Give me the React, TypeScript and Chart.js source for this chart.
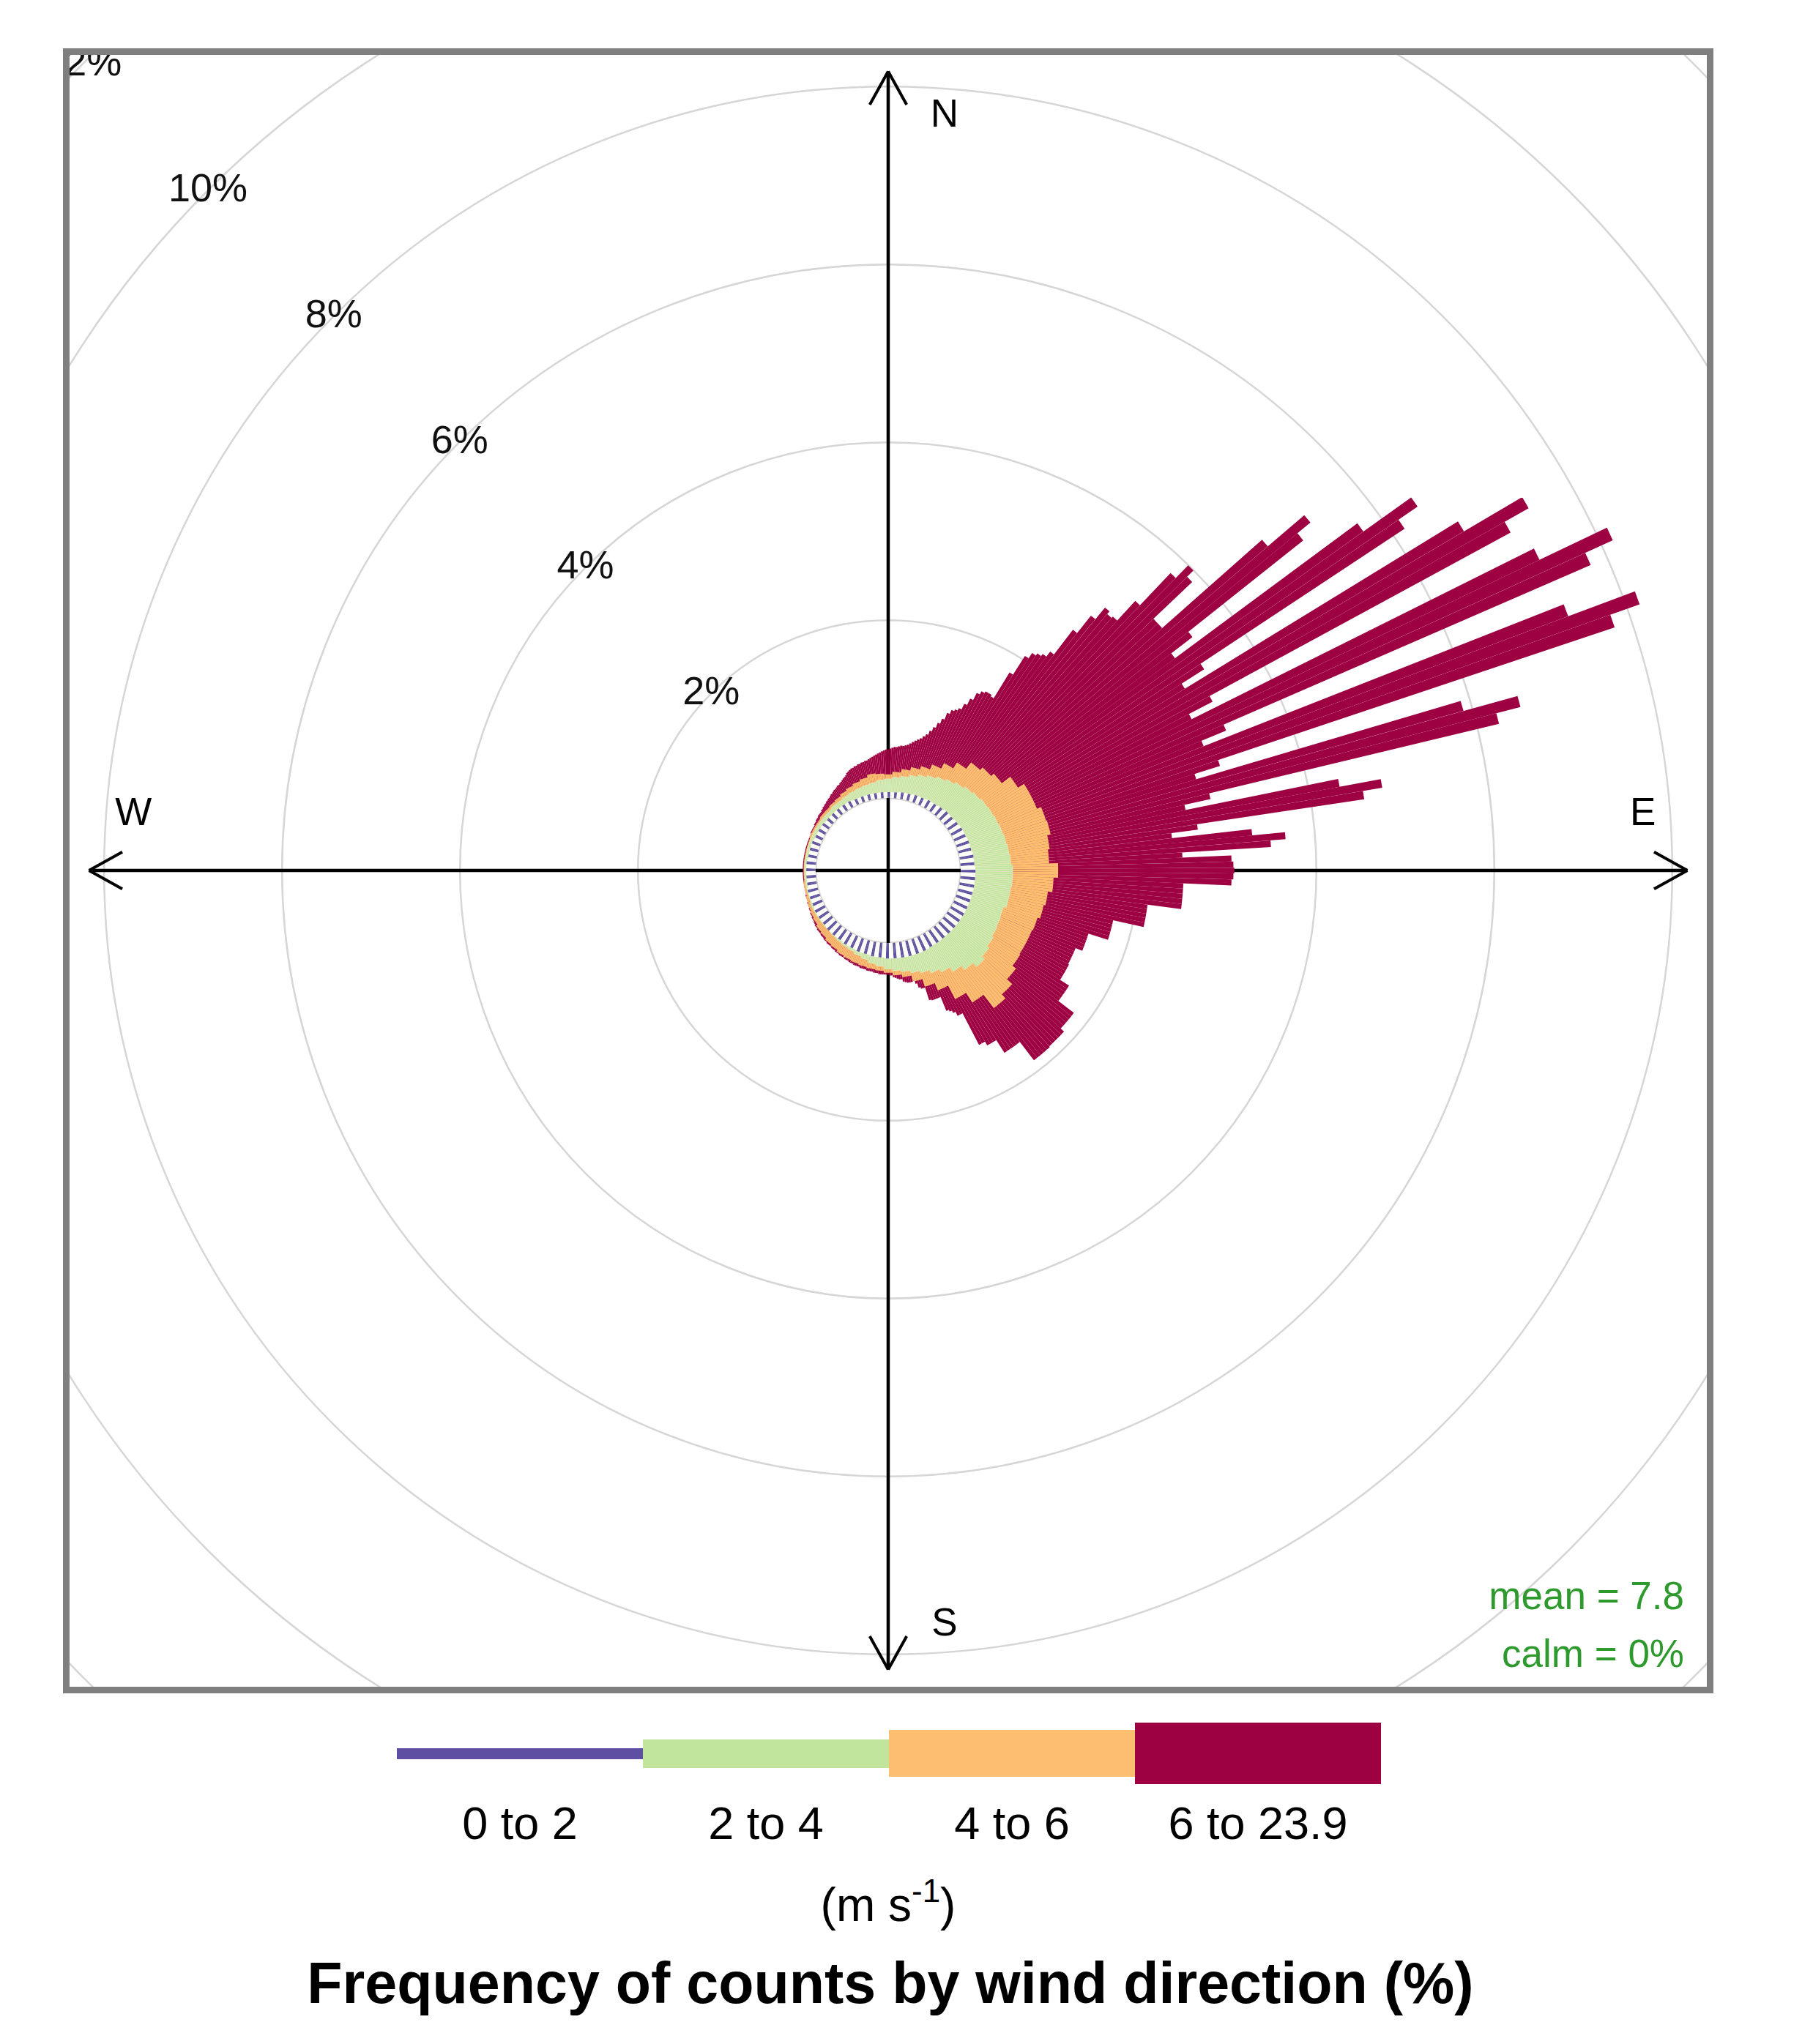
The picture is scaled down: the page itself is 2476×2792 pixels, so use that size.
import React, { useEffect, useRef } from "react";
import { Chart, registerables } from "chart.js";

Chart.register(...registerables);

// ---------- data ----------
// 1-degree direction bins (bin i centred on i degrees, clockwise from north)
const directionBins: string[] = Array.from({ length: 360 }, (_, i) => `${i}°`);

// total frequency (%) for every 1-degree bin (all speeds, 0 to 23.9 m/s)
const totalPct: number[] = [
  0.55, 0.56, 0.57, 0.58, 0.58, 0.59, 0.60, 0.60, 0.61, 0.62,
  0.64, 0.66, 0.68, 0.70, 0.72, 0.75, 0.78, 0.83, 0.88, 0.94,
  1.00, 1.08, 1.13, 1.15, 1.18, 1.25, 1.33, 1.42, 1.46, 1.48,
  1.48, 1.46, 1.80, 2.05, 2.12, 2.15, 2.18, 2.25, 2.60, 2.85,
  3.02, 2.98, 3.00, 3.30, 3.80, 4.00, 3.90, 3.30, 3.30, 4.80,
  5.34, 5.15, 3.50, 3.20, 5.75, 6.41, 6.15, 3.40, 3.10, 6.70,
  7.46, 7.15, 3.30, 3.00, 7.30, 8.14, 7.80, 3.30, 3.00, 7.35,
  8.15, 7.80, 3.10, 2.80, 5.90, 6.53, 6.25, 2.90, 2.60, 4.35,
  4.82, 4.60, 2.70, 2.40, 3.30, 3.67, 3.50, 2.50, 3.05, 3.07,
  3.08, 3.07, 3.05, 2.51, 2.51, 2.51, 2.51, 2.51, 2.13, 2.13,
  2.13, 2.13, 2.13, 1.78, 1.78, 1.78, 1.78, 1.78, 1.55, 1.55,
  1.55, 1.55, 1.55, 1.47, 1.47, 1.47, 1.47, 1.47, 1.48, 1.48,
  1.48, 1.48, 1.48, 1.60, 1.60, 1.60, 1.60, 1.60, 1.82, 1.82,
  1.82, 1.82, 1.82, 1.87, 1.87, 1.87, 1.87, 1.87, 1.88, 1.88,
  1.88, 1.88, 1.88, 1.62, 1.62, 1.62, 1.62, 1.62, 1.45, 1.45,
  1.45, 1.40, 1.40, 1.00, 1.00, 0.95, 0.92, 0.90, 0.73, 0.73,
  0.73, 0.73, 0.72, 0.57, 0.57, 0.55, 0.50, 0.46, 0.47, 0.47,
  0.47, 0.46, 0.45, 0.42, 0.42, 0.41, 0.40, 0.39, 0.37, 0.37,
  0.36, 0.36, 0.36, 0.36, 0.36, 0.36, 0.35, 0.35, 0.35, 0.34,
  0.34, 0.34, 0.34, 0.33, 0.33, 0.33, 0.33, 0.32, 0.32, 0.32,
  0.32, 0.31, 0.31, 0.31, 0.30, 0.30, 0.30, 0.29, 0.29, 0.29,
  0.29, 0.28, 0.28, 0.28, 0.27, 0.27, 0.27, 0.26, 0.26, 0.26,
  0.26, 0.25, 0.25, 0.25, 0.24, 0.24, 0.24, 0.23, 0.23, 0.23,
  0.23, 0.22, 0.22, 0.22, 0.21, 0.21, 0.20, 0.20, 0.20, 0.19,
  0.19, 0.19, 0.18, 0.18, 0.18, 0.17, 0.17, 0.17, 0.17, 0.16,
  0.16, 0.16, 0.16, 0.16, 0.15, 0.15, 0.15, 0.15, 0.15, 0.15,
  0.15, 0.15, 0.15, 0.15, 0.15, 0.15, 0.15, 0.15, 0.15, 0.15,
  0.15, 0.15, 0.15, 0.15, 0.15, 0.15, 0.15, 0.15, 0.15, 0.15,
  0.15, 0.15, 0.15, 0.15, 0.15, 0.15, 0.15, 0.15, 0.15, 0.15,
  0.15, 0.15, 0.15, 0.15, 0.15, 0.15, 0.16, 0.16, 0.16, 0.16,
  0.16, 0.16, 0.17, 0.17, 0.17, 0.18, 0.18, 0.18, 0.19, 0.19,
  0.19, 0.19, 0.20, 0.20, 0.21, 0.21, 0.22, 0.22, 0.23, 0.23,
  0.24, 0.24, 0.25, 0.26, 0.26, 0.27, 0.28, 0.28, 0.29, 0.30,
  0.30, 0.31, 0.32, 0.33, 0.34, 0.35, 0.36, 0.38, 0.39, 0.40,
  0.41, 0.41, 0.42, 0.42, 0.43, 0.43, 0.44, 0.44, 0.45, 0.45,
  0.46, 0.47, 0.48, 0.49, 0.50, 0.51, 0.52, 0.53, 0.54, 0.55,
];

// cumulative frequency (%) of the slower bands, per 5-degree sector (0, 5, ..., 355)
const upTo6Pct: number[] = [
  0.27, 0.30, 0.34, 0.38, 0.42, 0.48, 0.55, 0.63, 0.72, 0.76, 0.80, 0.92,
  1.00, 1.00, 1.05, 1.06, 1.02, 1.00, 1.10, 1.05, 1.00, 0.98, 0.95, 0.94,
  0.94, 0.95, 1.00, 1.08, 1.14, 0.95, 0.82, 0.65, 0.56, 0.47, 0.40, 0.37,
  0.34, 0.32, 0.31, 0.30, 0.29, 0.28, 0.27, 0.25, 0.24, 0.22, 0.21, 0.19,
  0.18, 0.17, 0.16, 0.15, 0.15, 0.14, 0.14, 0.14, 0.14, 0.14, 0.14, 0.15,
  0.15, 0.15, 0.16, 0.16, 0.17, 0.18, 0.20, 0.22, 0.24, 0.26, 0.29, 0.28,
];
const upTo4Pct: number[] = [
  0.22, 0.24, 0.26, 0.29, 0.32, 0.35, 0.38, 0.41, 0.44, 0.47, 0.49, 0.51,
  0.52, 0.53, 0.54, 0.55, 0.56, 0.57, 0.59, 0.59, 0.58, 0.58, 0.55, 0.56,
  0.57, 0.59, 0.62, 0.66, 0.60, 0.54, 0.48, 0.44, 0.40, 0.37, 0.34, 0.32,
  0.30, 0.27, 0.25, 0.22, 0.20, 0.18, 0.17, 0.16, 0.15, 0.14, 0.14, 0.14,
  0.14, 0.14, 0.13, 0.13, 0.13, 0.13, 0.13, 0.13, 0.13, 0.13, 0.13, 0.13,
  0.13, 0.13, 0.13, 0.13, 0.14, 0.14, 0.15, 0.16, 0.17, 0.18, 0.19, 0.21,
];
const upTo2Pct: number[] = [
  0.07, 0.07, 0.08, 0.08, 0.09, 0.09, 0.10, 0.10, 0.11, 0.12, 0.12, 0.13,
  0.14, 0.14, 0.15, 0.15, 0.16, 0.16, 0.17, 0.17, 0.17, 0.17, 0.17, 0.17,
  0.17, 0.17, 0.17, 0.17, 0.17, 0.17, 0.17, 0.18, 0.18, 0.18, 0.18, 0.18,
  0.18, 0.17, 0.17, 0.16, 0.16, 0.15, 0.15, 0.14, 0.14, 0.14, 0.13, 0.13,
  0.13, 0.12, 0.12, 0.12, 0.11, 0.11, 0.11, 0.11, 0.10, 0.10, 0.10, 0.09,
  0.09, 0.09, 0.08, 0.08, 0.08, 0.08, 0.08, 0.07, 0.07, 0.07, 0.07, 0.07,
];

const speedBands = ["0 to 2", "2 to 4", "4 to 6", "6 to 23.9"];
const bandColors = ["#5E4FA2", "#C2E59E", "#FDBF6F", "#9E0142"];
const ringValues = [0, 2, 4, 6, 8, 10, 12, 14];
const ringLabels = ["", "2%", "4%", "6%", "8%", "10%", "12%", "14%"];
const compassLabels = ["N", "E", "S", "W"];
const meanSpeed = "7.8";
const calmPct = "0%";
const titleText = "Frequency of counts by wind direction (%)";

// ---------- geometry (pixels / percent) ----------
const CANVAS_W = 2236;
const CANVAS_H = 2229;
const PX_PER_PCT = 121.5;
const CALM_PX = 98.8;
const SCALE_MIN = -CALM_PX / PX_PER_PCT;
const SCALE_MAX = SCALE_MIN + Math.floor(Math.min(CANVAS_W, CANVAS_H) / 2) / PX_PER_PCT;
const AXIS_EXTENT = 8.17;
const COMPASS_DIST = 7.67;
const FONT = '"Liberation Sans", Arial, Helvetica, sans-serif';

function sectorToBins(sector: number[], total: number[]): number[] {
  return total.map((t, d) => Math.min(t, sector[Math.round(d / 5) % 72]));
}

const roseDecor = {
  id: "roseDecor",
  afterDatasetsUpdate(chart: any) {
    const s = chart.scales.r;
    const r0 = s.getDistanceFromCenterForValue(0);
    chart.data.datasets.forEach((_: any, i: number) => {
      chart.getDatasetMeta(i).data.forEach((arc: any) => {
        arc.innerRadius = r0;
      });
    });
  },
  beforeDatasetsDraw(chart: any) {
    const ctx = chart.ctx;
    const s = chart.scales.r;
    const cx = s.xCenter;
    const cy = s.yCenter;
    const L = s.getDistanceFromCenterForValue(AXIS_EXTENT);
    ctx.save();
    ctx.strokeStyle = "#000";
    ctx.lineWidth = 4.5;
    ctx.lineCap = "butt";
    ctx.beginPath();
    ctx.moveTo(cx - L, cy);
    ctx.lineTo(cx + L, cy);
    ctx.moveTo(cx, cy - L);
    ctx.lineTo(cx, cy + L);
    ctx.stroke();
    const arm = 52;
    const a = (29 * Math.PI) / 180;
    const tips = [
      [0, -1],
      [1, 0],
      [0, 1],
      [-1, 0],
    ];
    ctx.lineWidth = 4;
    tips.forEach(([ux, uy]) => {
      const tx = cx + ux * L;
      const ty = cy + uy * L;
      ctx.beginPath();
      for (const sgn of [-1, 1]) {
        const ang = Math.atan2(-uy, -ux) + sgn * a;
        ctx.moveTo(tx, ty);
        ctx.lineTo(tx + arm * Math.cos(ang), ty + arm * Math.sin(ang));
      }
      ctx.stroke();
    });
    ctx.restore();
  },
  afterDatasetsDraw(chart: any) {
    const ctx = chart.ctx;
    const s = chart.scales.r;
    const cx = s.xCenter;
    const cy = s.yCenter;
    ctx.save();
    // ring labels along the north-west diagonal
    ctx.fillStyle = "#111";
    ctx.font = `54px ${FONT}`;
    ctx.textAlign = "center";
    ctx.textBaseline = "middle";
    ringValues.forEach((v, i) => {
      if (!ringLabels[i]) return;
      const r = s.getDistanceFromCenterForValue(v);
      const d = r * Math.SQRT1_2;
      ctx.fillText(ringLabels[i], cx - d, cy - d);
    });
    // compass letters
    const D = s.getDistanceFromCenterForValue(COMPASS_DIST);
    const side = 77;
    ctx.fillStyle = "#000";
    ctx.font = `53px ${FONT}`;
    const pos = [
      [side, -D],
      [D, -side],
      [side, D],
      [-D, -side],
    ];
    compassLabels.forEach((lab, i) => {
      ctx.fillText(lab, cx + pos[i][0], cy + pos[i][1]);
    });
    // mean / calm
    ctx.fillStyle = "#2E9A2E";
    ctx.font = `53px ${FONT}`;
    ctx.textAlign = "right";
    ctx.textBaseline = "alphabetic";
    ctx.fillText(`mean = ${meanSpeed}`, chart.width - 31, 2123);
    ctx.fillText(`calm = ${calmPct}`, chart.width - 31, 2202);
    ctx.restore();
  },
};

function RoseChart() {
  const ref = useRef<HTMLCanvasElement | null>(null);
  useEffect(() => {
    if (!ref.current) return;
    const total = totalPct;
    const layers = [
      sectorToBins(upTo2Pct, total),
      sectorToBins(upTo4Pct, total),
      sectorToBins(upTo6Pct, total),
      total,
    ];
    const borderW = [0, 0.2, 0, 0];
    const chart = new Chart(ref.current, {
      type: "polarArea",
      data: {
        labels: directionBins,
        datasets: layers.map((vals, i) => ({
          label: speedBands[i],
          data: vals,
          backgroundColor:
            i === 0
              ? (c: any) => (c.dataIndex % 5 < 2 ? bandColors[0] : "#ffffff")
              : bandColors[i],
          borderColor: "#ffffff",
          borderWidth: borderW[i],
          borderAlign: "inner" as const,
        })),
      },
      options: {
        responsive: false,
        animation: false,
        devicePixelRatio: 1,
        events: [],
        layout: { padding: 0 },
        plugins: {
          legend: { display: false },
          title: { display: false },
          tooltip: { enabled: false },
        },
        scales: {
          r: {
            type: "radialLinear",
            min: SCALE_MIN,
            max: SCALE_MAX,
            startAngle: -0.5,
            beginAtZero: false,
            angleLines: { display: false },
            pointLabels: { display: false },
            ticks: { display: false },
            grid: { display: true, circular: true, color: "#d6d6d6", lineWidth: 2.5 },
            afterBuildTicks: (sc: any) => {
              sc.ticks = ringValues.map((v) => ({ value: v }));
            },
          },
        },
      } as any,
      plugins: [roseDecor],
    });
    return () => chart.destroy();
  }, []);
  return (
    <div
      style={{
        position: "absolute",
        left: 78,
        top: 58,
        width: CANVAS_W,
        height: CANVAS_H,
        border: "9px solid #7f7f7f",
        overflow: "hidden",
      }}
    >
      <canvas
        ref={ref}
        width={CANVAS_W}
        height={CANVAS_H}
        style={{ width: CANVAS_W, height: CANVAS_H, display: "block" }}
      />
    </div>
  );
}

const legendHeights = [15, 39, 64, 84];

export default function App() {
  const legendLeft = 534;
  const swW = 336;
  const legendMid = 2387;
  return (
    <div style={{ position: "relative", width: 2460, height: 2776, fontFamily: FONT, background: "#fff" }}>
      <RoseChart />
      {speedBands.map((b, i) => (
        <div
          key={b}
          style={{
            position: "absolute",
            left: legendLeft + i * swW,
            top: legendMid - legendHeights[i] / 2,
            width: swW,
            height: legendHeights[i],
            background: bandColors[i],
          }}
        />
      ))}
      {speedBands.map((b, i) => (
        <div
          key={b + "l"}
          style={{
            position: "absolute",
            left: legendLeft + i * swW,
            top: 2451,
            width: swW,
            textAlign: "center",
            fontSize: 63,
            lineHeight: "63px",
            color: "#000",
            whiteSpace: "nowrap",
          }}
        >
          {b}
        </div>
      ))}
      <div
        style={{
          position: "absolute",
          left: 1000,
          width: 410,
          top: 2562,
          textAlign: "center",
          fontSize: 64,
          lineHeight: "64px",
          color: "#000",
        }}
      >
        (m s<sup style={{ fontSize: 44, verticalAlign: "26px", lineHeight: 0 }}>-1</sup>)
      </div>
      <div
        style={{
          position: "absolute",
          left: 0,
          width: 2416,
          top: 2661,
          textAlign: "center",
          fontSize: 79,
          lineHeight: "79px",
          fontWeight: "bold",
          color: "#000",
          whiteSpace: "nowrap",
        }}
      >
        {titleText}
      </div>
    </div>
  );
}
